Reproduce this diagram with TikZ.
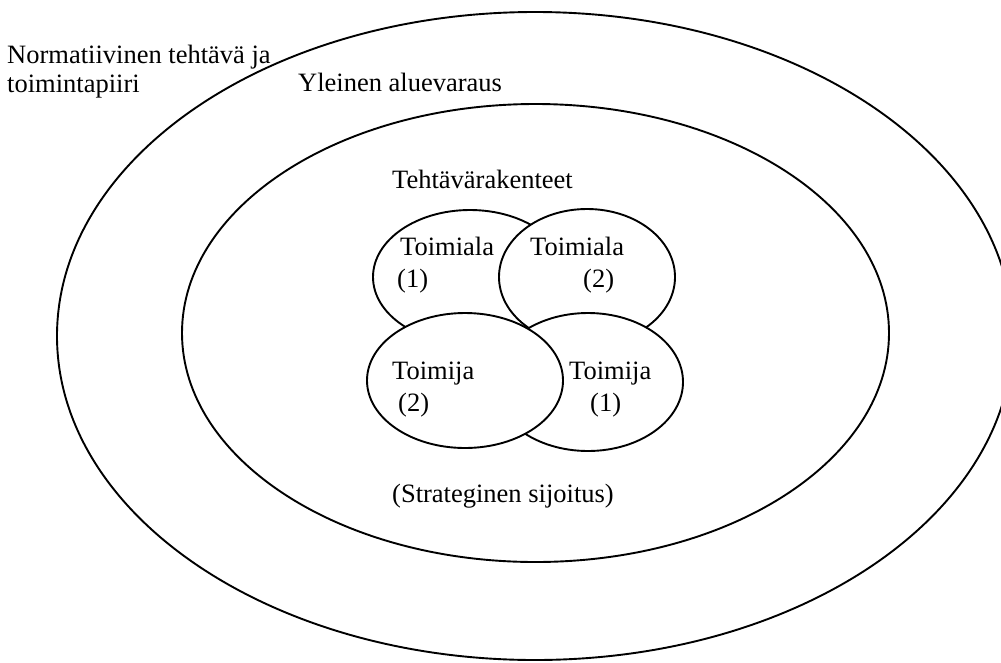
\documentclass[tikz,border=0pt]{standalone}
\usepackage{fontspec}
\setmainfont{Liberation Serif}
\usetikzlibrary{shapes.geometric}
\tikzset{
  ring/.style={ellipse, draw=black, line width=1.9pt, fill=white, inner sep=0pt, outer sep=0pt},
  lbl/.style={anchor=base west, inner sep=0pt, font=\fontsize{26.5}{30}\selectfont}
}
\begin{document}
\begin{tikzpicture}[x=1pt,y=-1pt]
\useasboundingbox (0,0) rectangle (1001,662);
\clip (0,0) rectangle (1001,662);
\fill[white] (0,0) rectangle (1001,662);
% large rings
\node[ring, minimum width=956pt, minimum height=648pt] (outer) at (535,336) {};
\node[ring, minimum width=707pt, minimum height=458pt] (inner) at (535.5,333) {};
% small overlapping ellipses (drawing order gives the overlaps)
\node[ring, minimum width=194pt, minimum height=134pt] (ala1) at (470,277) {};
\node[ring, minimum width=176pt, minimum height=136pt] (ala2) at (587,277) {};
\node[ring, minimum width=190pt, minimum height=138pt] (ija1) at (588,382) {};
\node[ring, minimum width=196pt, minimum height=135pt] (ija2) at (465,380.5) {};
% labels
\node[lbl] (norm1) at (7,63) {Normatiivinen tehtävä ja};
\node[lbl] (norm2) at (7,92) {toimintapiiri};
\node[lbl] (yleinen) at (298,91) {Yleinen aluevaraus};
\node[lbl] (tehtava) at (392,188) {Tehtävärakenteet};
\node[lbl] (ala1a) at (400,255) {Toimiala};
\node[lbl] (ala1b) at (397,287) {(1)};
\node[lbl] (ala2a) at (530,255) {Toimiala};
\node[lbl] (ala2b) at (583,287) {(2)};
\node[lbl] (ija2a) at (392,379) {Toimija};
\node[lbl] (ija2b) at (398,411) {(2)};
\node[lbl] (ija1a) at (569,379) {Toimija};
\node[lbl] (ija1b) at (590,411) {(1)};
\node[lbl] (strat) at (392,502) {(Strateginen sijoitus)};
\end{tikzpicture}
\end{document}
